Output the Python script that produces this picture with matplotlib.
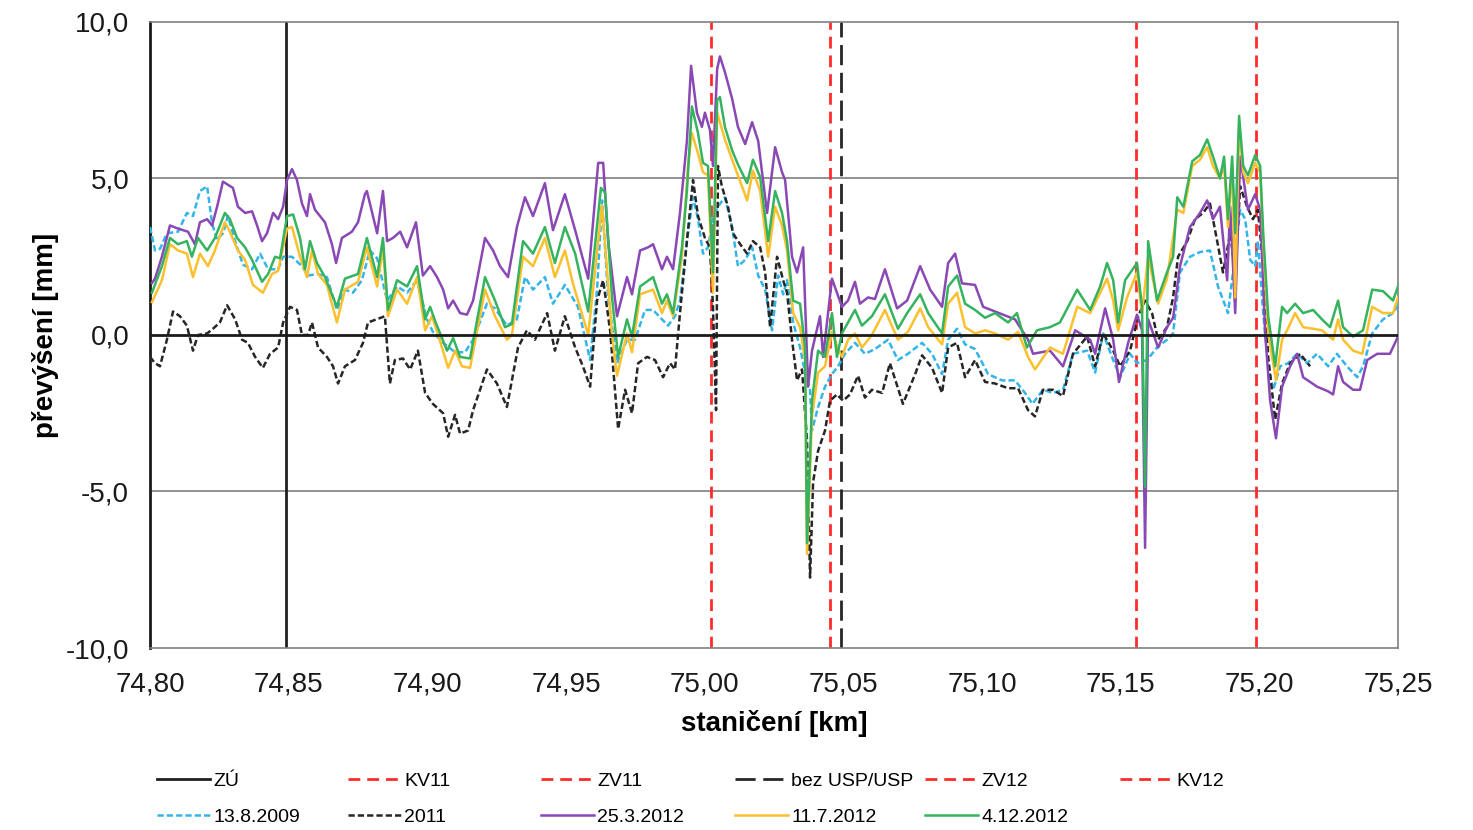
import matplotlib.pyplot as plt
from matplotlib.ticker import FuncFormatter, MultipleLocator

plt.rcParams['font.family'] = ['Liberation Sans', 'DejaVu Sans']
plt.rcParams['lines.scale_dashes'] = False

# marked points on the track [km]
mark_names = ['ZÚ', 'KV11', 'ZV11', 'bez USP/USP', 'ZV12', 'KV12']
mark_km = [74.849, 75.0023, 75.0452, 75.0492, 75.1556, 75.1988]

# 13.8.2009
km_2009 = [74.8000, 74.8018, 74.8036, 74.8061, 74.8101, 74.8133, 74.8155, 74.8180, 74.8206, 74.8224,
           74.8242, 74.8263, 74.8281, 74.8307, 74.8335, 74.8368, 74.8397, 74.8426, 74.8462, 74.8480,
           74.8512, 74.8548, 74.8570, 74.8606, 74.8638, 74.8674, 74.8703, 74.8732, 74.8764, 74.8793,
           74.8819, 74.8855, 74.8891, 74.8927, 74.8963, 74.8999, 74.9020, 74.9057, 74.9100, 74.9136,
           74.9165, 74.9215, 74.9244, 74.9287, 74.9323, 74.9352, 74.9381, 74.9424, 74.9453, 74.9496,
           74.9543, 74.9587, 74.9612, 74.9630, 74.9652, 74.9684, 74.9720, 74.9749, 74.9785, 74.9814,
           74.9846, 74.9868, 74.9893, 74.9911, 74.9936, 74.9958, 74.9976, 74.9994, 75.0012, 75.0030,
           75.0048, 75.0073, 75.0099, 75.0120, 75.0146, 75.0171, 75.0193, 75.0218, 75.0243, 75.0265,
           75.0283, 75.0297, 75.0319, 75.0344, 75.0362, 75.0380, 75.0387, 75.0409, 75.0434, 75.0459,
           75.0481, 75.0506, 75.0542, 75.0578, 75.0614, 75.0661, 75.0697, 75.0733, 75.0784, 75.0820,
           75.0856, 75.0878, 75.0910, 75.0939, 75.0975, 75.1022, 75.1072, 75.1119, 75.1155, 75.1182,
           75.1220, 75.1256, 75.1292, 75.1328, 75.1379, 75.1408, 75.1437, 75.1473, 75.1498, 75.1534,
           75.1559, 75.1595, 75.1631, 75.1667, 75.1689, 75.1714, 75.1750, 75.1786, 75.1822, 75.1851,
           75.1887, 75.1905, 75.1931, 75.1949, 75.1967, 75.1985, 75.1995, 75.2014, 75.2032, 75.2050,
           75.2075, 75.2104, 75.2136, 75.2172, 75.2208, 75.2248, 75.2280, 75.2316, 75.2353, 75.2374,
           75.2407, 75.2446, 75.2482, 75.2500]
h_2009 = [3.45, 2.7, 2.75, 3.25, 3.3, 3.9, 3.8, 4.6, 4.75, 3.55,
          3.05, 3.25, 3.8, 3.0, 2.25, 2.1, 2.6, 2.1, 2.1, 2.5,
          2.5, 2.2, 1.9, 1.95, 1.85, 0.8, 1.45, 1.35, 1.75, 2.7,
          2.45, 1.1, 1.55, 1.35, 1.75, 0.5, 0.1, -0.25, -0.55, -0.55,
          -0.15, 1.0, 0.85, 0.3, 0.5, 1.85, 1.45, 1.85, 1.0, 1.6,
          0.9, -0.8, 1.45, 4.3, 1.2, -0.9, -0.15, -0.15, 0.8, 0.8,
          0.5, 0.3, 0.6, 1.1, 3.0, 4.4, 3.7, 2.6, 2.8, 3.7,
          4.1, 4.4, 3.45, 2.2, 2.4, 2.8, 1.9, 1.45, 0.15, 1.9,
          1.3, 1.75, 0.4, -0.4, -1.2, -1.75, -3.05, -2.3, -1.65, -1.25,
          -1.0, -0.6, -0.25, -0.6, -0.45, -0.15, -0.8, -0.6, -0.25, -0.6,
          -1.25, -0.15, 0.2, -0.3, -0.45, -1.25, -1.45, -1.45, -1.85, -2.2,
          -1.75, -1.85, -1.75, -0.6, -0.5, -1.2, 0.05, -0.8, -1.35, -0.6,
          -0.9, -0.8, -0.4, -0.15, 0.05, 2.0, 2.5, 2.65, 2.7, 1.55,
          0.7, 2.0, 4.0, 3.7, 2.4, 2.2, 3.0, 0.7, -1.0, -1.75,
          -1.0, -0.9, -0.6, -0.9, -0.6, -1.0, -0.6, -1.0, -1.35, -1.0,
          0.05, 0.5, 0.7, 0.95]

# 2011
km_2011 = [74.8000, 74.8018, 74.8036, 74.8061, 74.8083, 74.8108, 74.8133, 74.8155, 74.8173, 74.8206,
           74.8227, 74.8252, 74.8278, 74.8307, 74.8332, 74.8353, 74.8379, 74.8407, 74.8433, 74.8462,
           74.8480, 74.8505, 74.8530, 74.8548, 74.8570, 74.8584, 74.8606, 74.8638, 74.8660, 74.8678,
           74.8703, 74.8739, 74.8768, 74.8786, 74.8847, 74.8865, 74.8883, 74.8912, 74.8938, 74.8966,
           74.8992, 74.9020, 74.9057, 74.9075, 74.9100, 74.9118, 74.9147, 74.9165, 74.9215, 74.9251,
           74.9287, 74.9327, 74.9359, 74.9388, 74.9432, 74.9460, 74.9496, 74.9533, 74.9561, 74.9587,
           74.9612, 74.9634, 74.9659, 74.9688, 74.9713, 74.9738, 74.9760, 74.9792, 74.9821, 74.9850,
           74.9875, 74.9893, 74.9911, 74.9936, 74.9958, 74.9976, 75.0001, 75.0019, 75.0030, 75.0041,
           75.0048, 75.0062, 75.0084, 75.0102, 75.0128, 75.0153, 75.0174, 75.0200, 75.0218, 75.0236,
           75.0261, 75.0283, 75.0297, 75.0315, 75.0333, 75.0351, 75.0369, 75.0380, 75.0391, 75.0409,
           75.0434, 75.0452, 75.0477, 75.0499, 75.0524, 75.0553, 75.0578, 75.0603, 75.0640, 75.0668,
           75.0715, 75.0759, 75.0784, 75.0820, 75.0856, 75.0878, 75.0910, 75.0939, 75.0975, 75.1011,
           75.1047, 75.1094, 75.1130, 75.1166, 75.1191, 75.1220, 75.1256, 75.1292, 75.1328, 75.1379,
           75.1408, 75.1437, 75.1473, 75.1498, 75.1534, 75.1563, 75.1588, 75.1613, 75.1635, 75.1667,
           75.1689, 75.1707, 75.1740, 75.1768, 75.1797, 75.1822, 75.1848, 75.1869, 75.1895, 75.1913,
           75.1931, 75.1956, 75.1977, 75.1995, 75.2014, 75.2032, 75.2057, 75.2082, 75.2111, 75.2147,
           75.2183]
h_2011 = [-0.7, -0.9, -1.0, -0.15, 0.75, 0.6, 0.3, -0.5, 0.0, 0.05,
          0.2, 0.4, 0.95, 0.5, -0.15, -0.25, -0.7, -1.05, -0.6, -0.4,
          0.4, 0.9, 0.8, 0.0, 0.0, 0.4, -0.4, -0.7, -1.0, -1.55,
          -1.0, -0.8, -0.25, 0.4, 0.6, -1.55, -0.8, -0.75, -1.1, -0.5,
          -1.85, -2.2, -2.5, -3.25, -2.55, -3.15, -3.05, -2.4, -1.1, -1.55,
          -2.3, -0.4, 0.15, -0.15, 0.7, -0.5, 0.6, -0.4, -1.0, -1.65,
          1.1, 1.75, 0.15, -3.0, -1.75, -2.5, -0.9, -0.7, -0.8, -1.35,
          -0.9, -1.1, 0.7, 3.0, 4.95, 3.8, 3.1, 2.8, 0.9, -2.4,
          5.4, 4.75, 4.1, 3.25, 2.9, 2.6, 3.0, 2.8, 2.0, 0.25,
          2.5, 1.75, 1.35, -0.15, -1.45, -1.1, -3.35, -7.75, -4.7, -3.7,
          -3.05, -2.1, -1.9, -2.1, -1.9, -1.3, -2.0, -1.75, -1.85, -0.9,
          -2.2, -1.25, -0.65, -1.05, -1.85, -0.4, -0.25, -1.35, -0.8, -1.5,
          -1.55, -1.7, -1.7, -2.4, -2.6, -1.75, -1.75, -1.95, -0.6, -0.05,
          -1.0, 0.05, -0.5, -1.0, -0.5, 0.6, 1.1, 0.7, -0.15, 0.25,
          1.2, 2.5, 3.0, 3.7, 3.9, 4.2, 3.0, 2.0, 3.25, 2.0,
          4.75, 4.1, 3.7, 4.0, 2.2, -0.7, -2.7, -1.55, -0.9, -0.6,
          -1.0]

# 25.3.2012
km_0325 = [74.8007, 74.8018, 74.8043, 74.8072, 74.8101, 74.8137, 74.8162, 74.8180, 74.8206, 74.8224,
           74.8242, 74.8263, 74.8281, 74.8299, 74.8317, 74.8343, 74.8368, 74.8386, 74.8404, 74.8422,
           74.8444, 74.8462, 74.8480, 74.8494, 74.8512, 74.8530, 74.8548, 74.8566, 74.8577, 74.8595,
           74.8631, 74.8656, 74.8671, 74.8692, 74.8728, 74.8750, 74.8775, 74.8782, 74.8819, 74.8840,
           74.8855, 74.8876, 74.8902, 74.8927, 74.8959, 74.8984, 74.9010, 74.9035, 74.9057, 74.9075,
           74.9093, 74.9118, 74.9143, 74.9165, 74.9208, 74.9237, 74.9262, 74.9291, 74.9323, 74.9352,
           74.9381, 74.9424, 74.9453, 74.9496, 74.9533, 74.9580, 74.9616, 74.9634, 74.9652, 74.9684,
           74.9720, 74.9738, 74.9767, 74.9796, 74.9814, 74.9846, 74.9864, 74.9886, 74.9911, 74.9936,
           74.9951, 74.9972, 74.9990, 75.0001, 75.0019, 75.0030, 75.0045, 75.0055, 75.0073, 75.0099,
           75.0120, 75.0146, 75.0171, 75.0193, 75.0225, 75.0254, 75.0279, 75.0290, 75.0315, 75.0333,
           75.0355, 75.0373, 75.0387, 75.0416, 75.0427, 75.0459, 75.0495, 75.0517, 75.0542, 75.0560,
           75.0589, 75.0614, 75.0650, 75.0694, 75.0730, 75.0777, 75.0813, 75.0856, 75.0878, 75.0903,
           75.0928, 75.0975, 75.1004, 75.1047, 75.1119, 75.1166, 75.1184, 75.1245, 75.1292, 75.1336,
           75.1390, 75.1408, 75.1444, 75.1473, 75.1494, 75.1527, 75.1559, 75.1577, 75.1588, 75.1599,
           75.1635, 75.1667, 75.1689, 75.1714, 75.1750, 75.1786, 75.1812, 75.1833, 75.1858, 75.1884,
           75.1895, 75.1913, 75.1931, 75.1959, 75.1985, 75.2003, 75.2021, 75.2039, 75.2060, 75.2082,
           75.2111, 75.2136, 75.2158, 75.2208, 75.2248, 75.2266, 75.2284, 75.2302, 75.2338, 75.2363,
           75.2389, 75.2425, 75.2471, 75.2500]
h_0325 = [1.66, 1.8, 2.5, 3.5, 3.4, 3.3, 2.9, 3.6, 3.7, 3.5,
          4.1, 4.9, 4.8, 4.7, 4.1, 3.9, 3.95, 3.5, 3.0, 3.25,
          3.9, 3.7, 4.1, 4.95, 5.3, 4.95, 4.2, 3.8, 4.5, 4.0,
          3.6, 2.9, 2.3, 3.1, 3.3, 3.6, 4.5, 4.6, 3.25, 4.6,
          3.0, 3.1, 3.3, 2.8, 3.6, 1.9, 2.2, 1.85, 1.45, 0.85,
          1.1, 0.7, 0.65, 1.1, 3.1, 2.7, 2.2, 1.85, 3.45, 4.4,
          3.8, 4.85, 3.35, 4.5, 3.35, 1.8, 5.5, 5.5, 3.0, 0.6,
          1.85, 1.3, 2.7, 2.8, 2.9, 2.1, 2.5, 2.1, 3.9, 6.2,
          8.6, 7.1, 6.65, 7.1, 6.55, 5.4, 8.5, 8.9, 8.4, 7.55,
          6.65, 6.1, 6.8, 6.2, 3.9, 6.0, 5.2, 4.95, 2.5, 2.0,
          2.8, -1.65, -0.5, 0.6, -0.7, 1.8, 0.9, 1.1, 1.7, 1.0,
          1.2, 1.15, 2.1, 0.85, 1.1, 2.2, 1.45, 0.9, 2.3, 2.6,
          1.65, 1.6, 0.9, 0.75, 0.5, -0.15, -0.6, -0.5, -1.0, 0.15,
          -0.15, -0.6, 0.85, -0.15, -1.5, -0.25, 0.65, 0.15, -6.8, 0.5,
          -0.4, 0.25, 0.55, 2.2, 3.45, 3.9, 4.3, 3.7, 4.1, 1.75,
          4.1, 0.7, 5.7, 4.0, 4.5, 4.0, 0.05, -2.1, -3.3, -1.65,
          -1.0, -0.6, -1.35, -1.65, -1.8, -1.9, -1.0, -1.5, -1.75, -1.75,
          -0.8, -0.6, -0.6, -0.05]

# 11.7.2012
km_0711 = [74.8007, 74.8043, 74.8072, 74.8101, 74.8133, 74.8155, 74.8180, 74.8209, 74.8234, 74.8270,
           74.8288, 74.8317, 74.8343, 74.8371, 74.8407, 74.8440, 74.8462, 74.8494, 74.8512, 74.8541,
           74.8566, 74.8584, 74.8606, 74.8638, 74.8674, 74.8703, 74.8750, 74.8782, 74.8819, 74.8840,
           74.8858, 74.8891, 74.8927, 74.8963, 74.8992, 74.9017, 74.9039, 74.9075, 74.9100, 74.9125,
           74.9154, 74.9208, 74.9244, 74.9287, 74.9305, 74.9345, 74.9381, 74.9424, 74.9460, 74.9496,
           74.9525, 74.9580, 74.9630, 74.9666, 74.9684, 74.9720, 74.9738, 74.9767, 74.9814, 74.9846,
           74.9864, 74.9886, 74.9918, 74.9940, 74.9954, 74.9976, 74.9994, 75.0012, 75.0030, 75.0045,
           75.0055, 75.0073, 75.0099, 75.0120, 75.0153, 75.0174, 75.0200, 75.0229, 75.0254, 75.0279,
           75.0297, 75.0319, 75.0344, 75.0362, 75.0369, 75.0387, 75.0409, 75.0434, 75.0459, 75.0477,
           75.0495, 75.0517, 75.0542, 75.0567, 75.0603, 75.0650, 75.0697, 75.0733, 75.0777, 75.0806,
           75.0856, 75.0878, 75.0910, 75.0939, 75.0975, 75.1011, 75.1047, 75.1094, 75.1130, 75.1166,
           75.1191, 75.1245, 75.1292, 75.1343, 75.1390, 75.1451, 75.1473, 75.1491, 75.1523, 75.1559,
           75.1577, 75.1599, 75.1635, 75.1667, 75.1704, 75.1726, 75.1758, 75.1786, 75.1812, 75.1833,
           75.1858, 75.1873, 75.1887, 75.1902, 75.1913, 75.1927, 75.1942, 75.1959, 75.1985, 75.2003,
           75.2014, 75.2032, 75.2060, 75.2082, 75.2100, 75.2129, 75.2158, 75.2194, 75.2226, 75.2266,
           75.2284, 75.2302, 75.2338, 75.2371, 75.2407, 75.2446, 75.2482, 75.2500]
h_0711 = [1.05, 1.75, 2.9, 2.7, 2.6, 1.85, 2.6, 2.2, 2.7, 3.6,
          3.3, 2.7, 2.4, 1.6, 1.35, 1.95, 2.05, 3.4, 3.45, 2.5,
          1.85, 2.7, 1.95, 1.6, 0.4, 1.45, 1.7, 2.8, 1.55, 2.8,
          0.6, 1.45, 1.0, 1.85, 0.15, 0.6, 0.0, -1.05, -0.5, -1.0,
          -1.05, 1.45, 0.6, -0.15, 0.0, 2.5, 2.2, 3.1, 1.85, 2.7,
          1.65, 0.0, 4.15, 0.0, -1.3, 0.05, -0.55, 1.3, 1.45, 0.7,
          1.1, 0.6, 2.5, 5.4, 6.45, 5.8, 5.2, 5.1, 1.35, 7.1,
          6.8, 6.25, 5.6, 5.1, 4.3, 5.25, 4.6, 2.5, 4.1, 3.5,
          2.7, 0.7, 0.25, -0.8, -7.0, -2.6, -1.2, -1.0, 0.1, -0.35,
          -0.7, -0.15, 0.05, -0.4, 0.0, 0.8, -0.15, 0.1, 0.85, 0.25,
          -0.3, 1.0, 1.35, 0.25, 0.05, 0.15, 0.05, -0.15, 0.1, -0.7,
          -1.1, -0.4, -0.6, 0.9, 0.7, 1.8, 1.1, 0.15, 1.2, 2.0,
          0.7, 2.5, 1.0, 1.8, 4.0, 3.9, 5.4, 5.6, 6.0, 5.4,
          5.0, 5.4, 3.45, 5.4, 1.2, 6.65, 5.2, 4.85, 5.5, 5.2,
          3.0, 0.05, -1.45, -0.15, 0.15, 0.7, 0.25, 0.2, 0.15, -0.15,
          0.5, -0.15, -0.5, -0.6, 0.9, 0.7, 0.7, 1.2]

# 4.12.2012
km_1204 = [74.8007, 74.8043, 74.8072, 74.8101, 74.8133, 74.8151, 74.8173, 74.8206, 74.8234, 74.8270,
           74.8288, 74.8314, 74.8343, 74.8368, 74.8404, 74.8426, 74.8451, 74.8469, 74.8494, 74.8516,
           74.8541, 74.8559, 74.8577, 74.8602, 74.8631, 74.8674, 74.8703, 74.8750, 74.8782, 74.8819,
           74.8840, 74.8858, 74.8891, 74.8927, 74.8963, 74.8992, 74.9010, 74.9028, 74.9071, 74.9093,
           74.9118, 74.9154, 74.9208, 74.9244, 74.9280, 74.9305, 74.9345, 74.9381, 74.9424, 74.9460,
           74.9496, 74.9533, 74.9580, 74.9626, 74.9641, 74.9666, 74.9688, 74.9720, 74.9738, 74.9767,
           74.9814, 74.9846, 74.9864, 74.9886, 74.9918, 74.9936, 74.9954, 74.9976, 74.9994, 75.0012,
           75.0030, 75.0045, 75.0055, 75.0073, 75.0099, 75.0120, 75.0153, 75.0174, 75.0200, 75.0229,
           75.0254, 75.0279, 75.0297, 75.0319, 75.0344, 75.0362, 75.0369, 75.0387, 75.0409, 75.0434,
           75.0459, 75.0477, 75.0495, 75.0542, 75.0567, 75.0603, 75.0650, 75.0697, 75.0730, 75.0777,
           75.0806, 75.0856, 75.0878, 75.0910, 75.0939, 75.0975, 75.1011, 75.1047, 75.1094, 75.1126,
           75.1162, 75.1198, 75.1245, 75.1281, 75.1343, 75.1390, 75.1426, 75.1451, 75.1473, 75.1491,
           75.1516, 75.1559, 75.1577, 75.1588, 75.1599, 75.1631, 75.1667, 75.1689, 75.1704, 75.1726,
           75.1758, 75.1786, 75.1812, 75.1833, 75.1858, 75.1873, 75.1887, 75.1902, 75.1913, 75.1927,
           75.1942, 75.1959, 75.1985, 75.2003, 75.2014, 75.2032, 75.2057, 75.2082, 75.2100, 75.2129,
           75.2158, 75.2194, 75.2226, 75.2255, 75.2284, 75.2302, 75.2338, 75.2374, 75.2407, 75.2446,
           75.2482, 75.2500]
h_1204 = [1.35, 2.2, 3.1, 2.9, 3.0, 2.5, 3.1, 2.7, 3.1, 3.9,
          3.7, 3.1, 2.8, 2.4, 1.7, 1.95, 2.5, 2.45, 3.8, 3.85,
          3.1, 2.1, 3.0, 2.3, 1.85, 0.9, 1.8, 1.95, 3.1, 1.85,
          3.1, 0.8, 1.75, 1.55, 2.2, 0.5, 0.9, 0.45, -0.5, -0.1,
          -0.7, -0.75, 1.85, 1.1, 0.25, 0.35, 3.0, 2.6, 3.45, 2.3,
          3.45, 2.6, 0.75, 4.7, 4.55, 1.2, -0.7, 0.5, -0.05, 1.55,
          1.85, 1.0, 1.3, 0.7, 2.8, 4.6, 7.3, 6.45, 5.5, 5.4,
          2.0, 7.5, 7.6, 6.65, 5.9, 5.45, 4.85, 5.6, 5.05, 3.0,
          4.6, 3.9, 3.0, 1.1, 1.0, -0.4, -6.65, -2.1, -0.5, -0.7,
          0.7, -0.7, 0.05, 0.8, 0.3, 0.6, 1.3, 0.2, 0.7, 1.3,
          0.7, 0.05, 1.55, 1.9, 1.0, 0.8, 0.55, 0.7, 0.4, 0.7,
          -0.4, 0.15, 0.25, 0.4, 1.45, 0.8, 1.55, 2.3, 1.75, 0.4,
          1.75, 2.3, 0.9, -4.85, 3.0, 1.1, 2.0, 2.5, 4.4, 4.1,
          5.55, 5.75, 6.25, 5.7, 5.0, 5.7, 3.7, 5.7, 3.25, 7.0,
          5.4, 5.1, 5.75, 5.4, 3.25, 0.6, -1.0, 0.9, 0.7, 1.0,
          0.7, 0.8, 0.5, 0.25, 1.1, 0.25, -0.05, 0.15, 1.45, 1.4,
          1.1, 1.55]

series = [
    (km_2009, h_2009, '13.8.2009'),
    (km_2011, h_2011, '2011'),
    (km_0325, h_0325, '25.3.2012'),
    (km_0711, h_0711, '11.7.2012'),
    (km_1204, h_1204, '4.12.2012'),
]
series_style = [
    dict(color='#33b5ea', linestyle=(0, (4.5, 2.2))),
    dict(color='#262626', linestyle=(0, (4.5, 2.2))),
    dict(color='#8a48b5', linestyle='-'),
    dict(color='#fbc02d', linestyle='-'),
    dict(color='#35b35e', linestyle='-'),
]
red_dash = dict(color='#ff2b2b', linestyle=(0, (8.5, 5.0)))
mark_style = [
    dict(color='#1f1f1f', linestyle='-'),
    red_dash, red_dash,
    dict(color='#262626', linestyle=(0, (14.5, 5.5))),
    red_dash, red_dash,
]

fig = plt.figure(figsize=(14.73, 8.30), dpi=100)
ax = fig.add_axes([150 / 1473, 1 - 648 / 830, 1248 / 1473, 626 / 830])

mark_handles = []
for km, name, st in zip(mark_km, mark_names, mark_style):
    h = ax.plot([km, km], [-10, 10], lw=2.0, label=name, zorder=2, **st)[0]
    mark_handles.append(h)

series_handles = []
for (km, h_mm, name), st in zip(series, series_style):
    h = ax.plot(km, h_mm, lw=1.8, label=name, zorder=3, **st)[0]
    series_handles.append(h)

ax.axhline(0, color='#1a1a1a', lw=2.0, zorder=4)
for yv in (5, -5):
    ax.axhline(yv, color='#7f7f7f', lw=1.2, zorder=1)

ax.set_xlim(74.80, 75.25)
ax.set_ylim(-10, 10)
ax.xaxis.set_major_locator(MultipleLocator(0.05))
ax.yaxis.set_major_locator(MultipleLocator(5))
ax.xaxis.set_major_formatter(FuncFormatter(lambda v, p: f'{v:.2f}'.replace('.', ',')))
ax.yaxis.set_major_formatter(FuncFormatter(lambda v, p: f'{v:.1f}'.replace('.', ',')))
ax.tick_params(length=0, labelsize=20, colors='#1a1a1a')
ax.tick_params(axis='y', pad=15)
ax.tick_params(axis='x', pad=17)

for side in ('top', 'right', 'bottom'):
    ax.spines[side].set_color('#7f7f7f')
    ax.spines[side].set_linewidth(1.2)
ax.spines['left'].set_color('#1a1a1a')
ax.spines['left'].set_linewidth(2.0)

ax.set_xlabel('staničení [km]', fontsize=20, fontweight='bold', labelpad=9)
ax.set_ylabel('převýšení [mm]', fontsize=20, fontweight='bold', labelpad=5)

# legend: one small legend per column, like the fixed Excel grid
col_left = [157, 348, 541, 735, 925, 1120]
for i, x0 in enumerate(col_left):
    hs = [mark_handles[i]]
    if i < len(series_handles):
        hs.append(series_handles[i])
    fig.legend(handles=hs, labels=[h.get_label() for h in hs],
               loc='upper left', bbox_to_anchor=(x0 / 1473, 1 - 772 / 830),
               frameon=False, fontsize=14, handlelength=2.75, handletextpad=0.15,
               borderpad=0, borderaxespad=0, labelspacing=0.95)

fig.savefig('out.png', dpi=100)
